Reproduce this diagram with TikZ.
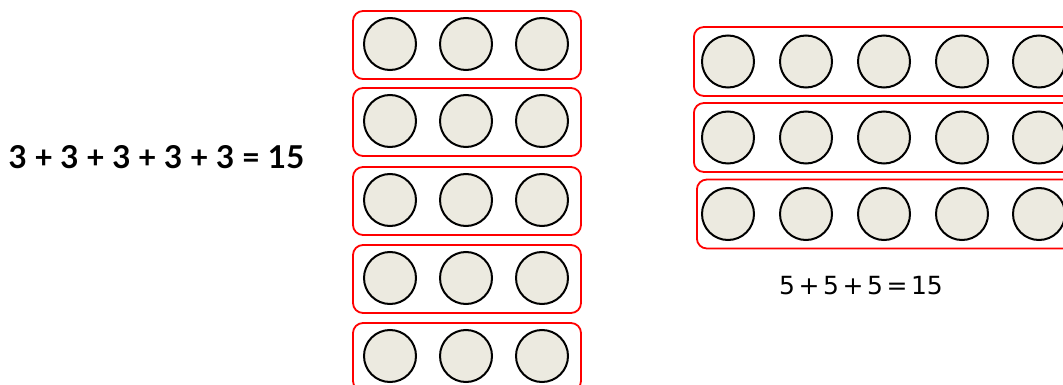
\documentclass[tikz,border=0pt]{standalone}
\usepackage{fontspec}
\newfontfamily\eqfontA{Lato}
\newfontfamily\eqfontB[WordSpace=0.45]{DejaVu Sans}
\definecolor{counter}{HTML}{ECEAE0}
\definecolor{framered}{HTML}{FF0000}
\begin{document}
\begin{tikzpicture}[x=1pt,y=-1pt,
  dot/.style={circle,draw=black,line width=2pt,fill=counter,minimum size=52pt,inner sep=0pt},
  rowbox/.style={rectangle,rounded corners=10pt,draw=framered,line width=1.8pt,inner sep=0pt},
  leftbox/.style={rowbox,minimum width=228pt,minimum height=68pt},
  rightbox/.style={rowbox,minimum width=392pt,minimum height=69pt},
  eqtext/.style={inner sep=0pt,anchor=center}]
\useasboundingbox (0,0) rectangle (1063,385);
\clip (0,0) rectangle (1063,385);
% left column: five rows of three
\foreach \r/\y in {1/45,2/122,3/201,4/279,5/357}{
  \node[leftbox] (lb\r) at (467,\y) {};
  \foreach \c/\x in {1/390,2/466,3/542}{
    \node[dot] (l\r\c) at (\x,\y-1) {};
  }
}
% right column: three rows of five
\foreach \r/\y/\xl in {1/61.5/693,2/137.5/693,3/214/696}{
  \node[rightbox,anchor=west] (rb\r) at (\xl,\y) {};
  \foreach \c/\x in {1/728,2/806,3/884,4/962,5/1039}{
    \node[dot] (r\r\c) at (\x,\y) {};
  }
}
\node[eqtext,font=\eqfontA\bfseries\fontsize{31.5}{36}\selectfont] (eqA) at (156.5,157) {3 + 3 + 3 + 3 + 3 = 15};
\node[eqtext,font=\eqfontB\fontsize{25}{30}\selectfont] (eqB) at (861,286) {5 + 5 + 5 = 15};
\end{tikzpicture}
\end{document}
